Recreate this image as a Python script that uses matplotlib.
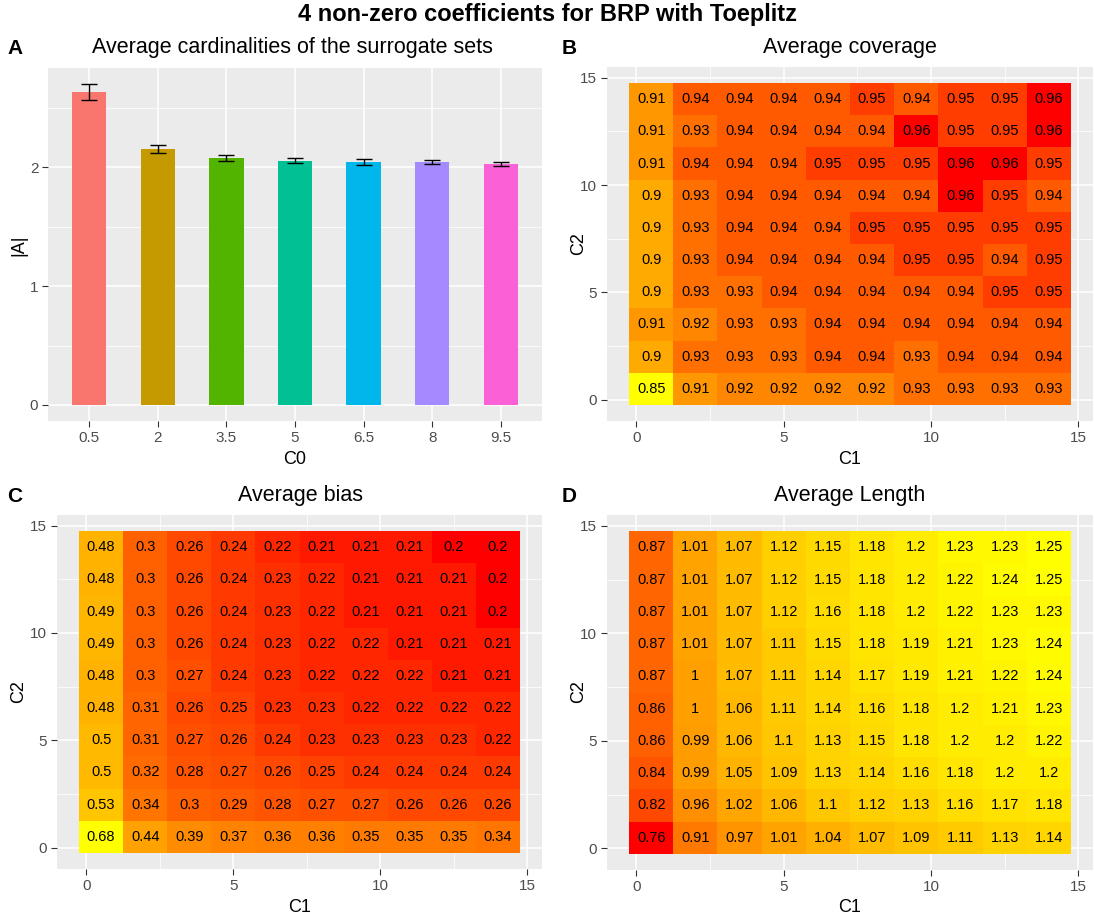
import numpy as np
import matplotlib
matplotlib.use("Agg")
import matplotlib.pyplot as plt
from matplotlib.colors import ListedColormap, Normalize

plt.rcParams['font.family'] = ['Liberation Sans', 'DejaVu Sans']

# panel A: surrogate set sizes per C0
c0_labels = ['0.5', '2', '3.5', '5', '6.5', '8', '9.5']
card_mean = [2.63, 2.155, 2.075, 2.055, 2.045, 2.045, 2.03]
card_err = [0.067, 0.035, 0.026, 0.021, 0.022, 0.02, 0.016]
bar_cols = ['#F8766D', '#C49A00', '#53B400', '#00C094', '#00B6EB', '#A58AFF', '#FB61D7']

# grid for the heatmaps
c1_vals = np.array([0.5, 2, 3.5, 5, 6.5, 8, 9.5, 11, 12.5, 14])
c2_vals = np.array([0.5, 2, 3.5, 5, 6.5, 8, 9.5, 11, 12.5, 14])

# rows listed from C2 = 14 down to C2 = 0.5
coverage = [
    [0.91, 0.94, 0.94, 0.94, 0.94, 0.95, 0.94, 0.95, 0.95, 0.96],
    [0.91, 0.93, 0.94, 0.94, 0.94, 0.94, 0.96, 0.95, 0.95, 0.96],
    [0.91, 0.94, 0.94, 0.94, 0.95, 0.95, 0.95, 0.96, 0.96, 0.95],
    [0.90, 0.93, 0.94, 0.94, 0.94, 0.94, 0.94, 0.96, 0.95, 0.94],
    [0.90, 0.93, 0.94, 0.94, 0.94, 0.95, 0.95, 0.95, 0.95, 0.95],
    [0.90, 0.93, 0.94, 0.94, 0.94, 0.94, 0.95, 0.95, 0.94, 0.95],
    [0.90, 0.93, 0.93, 0.94, 0.94, 0.94, 0.94, 0.94, 0.95, 0.95],
    [0.91, 0.92, 0.93, 0.93, 0.94, 0.94, 0.94, 0.94, 0.94, 0.94],
    [0.90, 0.93, 0.93, 0.93, 0.94, 0.94, 0.93, 0.94, 0.94, 0.94],
    [0.85, 0.91, 0.92, 0.92, 0.92, 0.92, 0.93, 0.93, 0.93, 0.93],
]
bias = [
    [0.48, 0.30, 0.26, 0.24, 0.22, 0.21, 0.21, 0.21, 0.20, 0.20],
    [0.48, 0.30, 0.26, 0.24, 0.23, 0.22, 0.21, 0.21, 0.21, 0.20],
    [0.49, 0.30, 0.26, 0.24, 0.23, 0.22, 0.21, 0.21, 0.21, 0.20],
    [0.49, 0.30, 0.26, 0.24, 0.23, 0.22, 0.22, 0.21, 0.21, 0.21],
    [0.48, 0.30, 0.27, 0.24, 0.23, 0.22, 0.22, 0.22, 0.21, 0.21],
    [0.48, 0.31, 0.26, 0.25, 0.23, 0.23, 0.22, 0.22, 0.22, 0.22],
    [0.50, 0.31, 0.27, 0.26, 0.24, 0.23, 0.23, 0.23, 0.23, 0.22],
    [0.50, 0.32, 0.28, 0.27, 0.26, 0.25, 0.24, 0.24, 0.24, 0.24],
    [0.53, 0.34, 0.30, 0.29, 0.28, 0.27, 0.27, 0.26, 0.26, 0.26],
    [0.68, 0.44, 0.39, 0.37, 0.36, 0.36, 0.35, 0.35, 0.35, 0.34],
]
length = [
    [0.87, 1.01, 1.07, 1.12, 1.15, 1.18, 1.20, 1.23, 1.23, 1.25],
    [0.87, 1.01, 1.07, 1.12, 1.15, 1.18, 1.20, 1.22, 1.24, 1.25],
    [0.87, 1.01, 1.07, 1.12, 1.16, 1.18, 1.20, 1.22, 1.23, 1.23],
    [0.87, 1.01, 1.07, 1.11, 1.15, 1.18, 1.19, 1.21, 1.23, 1.24],
    [0.87, 1.00, 1.07, 1.11, 1.14, 1.17, 1.19, 1.21, 1.22, 1.24],
    [0.86, 1.00, 1.06, 1.11, 1.14, 1.16, 1.18, 1.20, 1.21, 1.23],
    [0.86, 0.99, 1.06, 1.10, 1.13, 1.15, 1.18, 1.20, 1.20, 1.22],
    [0.84, 0.99, 1.05, 1.09, 1.13, 1.14, 1.16, 1.18, 1.20, 1.20],
    [0.82, 0.96, 1.02, 1.06, 1.10, 1.12, 1.13, 1.16, 1.17, 1.18],
    [0.76, 0.91, 0.97, 1.01, 1.04, 1.07, 1.09, 1.11, 1.13, 1.14],
]

W, H = 1094, 919
BG = '#EBEBEB'
TICK_TXT = '#4D4D4D'


# --- colour gradient interpolated in Lab space (like scale_fill_gradient) ---
def srgb_to_lab(rgb):
    rgb = np.asarray(rgb, float)
    lin = np.where(rgb <= 0.04045, rgb / 12.92, ((rgb + 0.055) / 1.055) ** 2.4)
    M = np.array([[0.4124, 0.3576, 0.1805],
                  [0.2126, 0.7152, 0.0722],
                  [0.0193, 0.1192, 0.9505]])
    xyz = M @ lin / np.array([0.95047, 1.0, 1.08883])
    f = np.where(xyz > 0.008856, np.cbrt(xyz), 7.787 * xyz + 16 / 116)
    return np.array([116 * f[1] - 16, 500 * (f[0] - f[1]), 200 * (f[1] - f[2])])


def lab_to_srgb(lab):
    L, a, b = lab
    fy = (L + 16) / 116
    fx = fy + a / 500
    fz = fy - b / 200
    f = np.array([fx, fy, fz])
    xyz = np.where(f ** 3 > 0.008856, f ** 3, (f - 16 / 116) / 7.787)
    xyz = xyz * np.array([0.95047, 1.0, 1.08883])
    Minv = np.array([[3.2406, -1.5372, -0.4986],
                     [-0.9689, 1.8758, 0.0415],
                     [0.0557, -0.2040, 1.0570]])
    lin = Minv @ xyz
    rgb = np.where(lin <= 0.0031308, 12.92 * lin, 1.055 * np.clip(lin, 0, None) ** (1 / 2.4) - 0.055)
    return np.clip(rgb, 0, 1)


def lab_cmap(low, high, n=256):
    l0, l1 = srgb_to_lab(low), srgb_to_lab(high)
    cols = [lab_to_srgb(l0 + t * (l1 - l0)) for t in np.linspace(0, 1, n)]
    return ListedColormap(cols)


yel_red = lab_cmap((1, 1, 0), (1, 0, 0))
red_yel = lab_cmap((1, 0, 0), (1, 1, 0))


def px_axes(fig, x0, y0, x1, y1):
    return fig.add_axes([x0 / W, 1 - y1 / H, (x1 - x0) / W, (y1 - y0) / H])


def style_axes(ax):
    ax.set_facecolor(BG)
    for s in ax.spines.values():
        s.set_visible(False)
    ax.tick_params(axis='both', which='major', length=4, width=0.8, color='#333333',
                   labelcolor=TICK_TXT, labelsize=11, pad=3)
    ax.tick_params(axis='both', which='minor', length=0)
    ax.grid(which='major', color='white', lw=1.1)
    ax.grid(which='minor', color='white', lw=0.55)
    ax.set_axisbelow(True)


def heatmap(ax, data, cmap):
    z = np.array(data)[::-1]
    dx = 0.75
    xe = np.append(c1_vals - dx, c1_vals[-1] + dx)
    ye = np.append(c2_vals - dx, c2_vals[-1] + dx)
    norm = Normalize(z.min(), z.max())
    ax.pcolormesh(xe, ye, z, cmap=cmap, norm=norm, zorder=2)
    for i, yv in enumerate(c2_vals):
        for j, xv in enumerate(c1_vals):
            ax.text(xv, yv, f"{z[i, j]:g}", ha='center', va='center',
                    fontsize=10.5, color='black', zorder=3)
    ax.set_xlim(-1, 15.5)
    ax.set_ylim(-1, 15.5)
    ax.set_xticks([0, 5, 10, 15])
    ax.set_yticks([0, 5, 10, 15])
    ax.set_xticks([2.5, 7.5, 12.5], minor=True)
    ax.set_yticks([2.5, 7.5, 12.5], minor=True)
    style_axes(ax)


fig = plt.figure(figsize=(W / 100, H / 100), dpi=100)

# A: bar chart with error bars
axA = px_axes(fig, 48, 68, 542, 421)
xpos = np.arange(len(c0_labels))
axA.bar(xpos, card_mean, width=0.5, color=bar_cols, zorder=2)
axA.errorbar(xpos, card_mean, yerr=card_err, fmt='none', ecolor='black',
             elinewidth=1, capsize=6, capthick=1, zorder=3)
axA.set_xlim(-0.6, 6.6)
axA.set_ylim(-0.135, 2.835)
axA.set_xticks(xpos)
axA.set_xticklabels(c0_labels)
axA.set_yticks([0, 1, 2])
axA.set_yticks([0.5, 1.5, 2.5], minor=True)
style_axes(axA)
axA.xaxis.grid(True, which='major')

# B: coverage (low = yellow), C and D: bias and length (low = red)
axB = px_axes(fig, 607, 67, 1093, 421)
heatmap(axB, coverage, yel_red)
axC = px_axes(fig, 57, 515, 542, 869)
heatmap(axC, bias, red_yel)
axD = px_axes(fig, 607, 515, 1093, 870)
heatmap(axD, length, red_yel)

# titles and axis names
fig.text(547 / W, 1 - 15 / H, "4 non-zero coefficients for BRP with Toeplitz",
         ha='center', va='center', fontsize=17, fontweight='bold')
for lab, x, y in [('A', 15, 48), ('B', 569, 48), ('C', 15, 497), ('D', 569, 497)]:
    fig.text(x / W, 1 - y / H, lab, ha='center', va='center', fontsize=15, fontweight='bold')

panel_titles = [
    ("Average cardinalities of the surrogate sets", 292, 47),
    ("Average coverage", 850, 47),
    ("Average bias", 300, 496),
    ("Average Length", 850, 496),
]
for t, x, y in panel_titles:
    fig.text(x / W, 1 - y / H, t, ha='center', va='center', fontsize=15.5)

xlabels = [("C0", 295, 459), ("C1", 850, 459), ("C1", 300, 907), ("C1", 850, 907)]
for t, x, y in xlabels:
    fig.text(x / W, 1 - y / H, t, ha='center', va='center', fontsize=13)
ylabels = [("|A|", 19, 245), ("C2", 579, 244), ("C2", 19, 692), ("C2", 579, 692)]
for t, x, y in ylabels:
    fig.text(x / W, 1 - y / H, t, ha='center', va='center', fontsize=13, rotation=90)

fig.savefig("out.png", dpi=100)
